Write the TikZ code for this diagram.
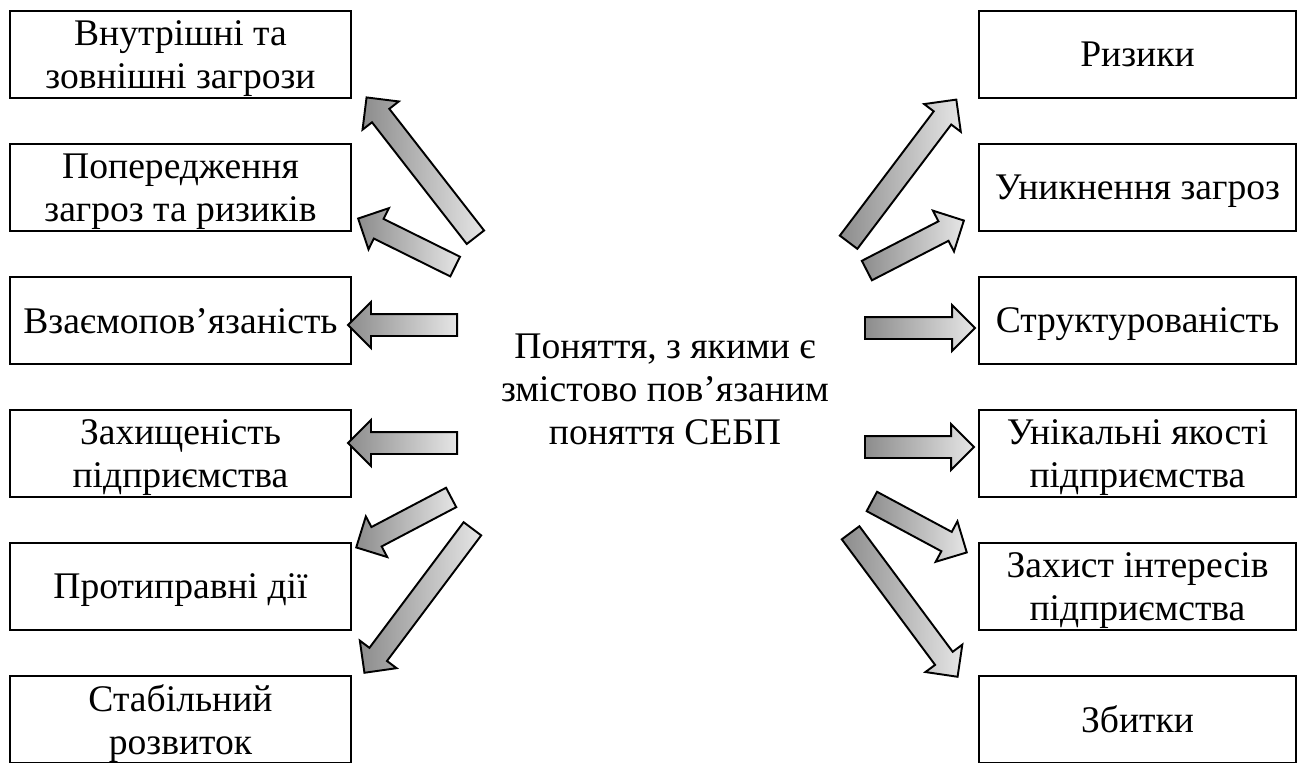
\documentclass[tikz,border=0pt]{standalone}
\usepackage{fontspec}
\setmainfont{Liberation Serif}
\usetikzlibrary{calc, shapes.arrows, positioning}

\begin{document}
\begin{tikzpicture}[
    box/.style={draw, line width=1.1pt, minimum height=1.74cm, align=center,
        inner sep=1pt, text depth=0pt, font=\fontsize{21.4}{24.3}\selectfont},
    lbox/.style={box, minimum width=6.82cm},
    rbox/.style={box, minimum width=6.34cm},
    barrow/.style={single arrow, draw, line width=1.1pt, inner xsep=0pt, inner ysep=0.2cm,
        minimum width=0pt, single arrow head extend=0.24cm, single arrow tip angle=90,
        left color=black!45, right color=black!10}
]
\newcommand{\blockarrow}[2]{%
  \path let \p1=(#1), \p2=(#2), \n1={atan2(\y2-\y1,\x2-\x1)},
    \n2={veclen(\x2-\x1,\y2-\y1)} in
    (\p1) node[barrow, anchor=tail, rotate=\n1, minimum height=\n2] {};
}
\useasboundingbox (0,0) rectangle (26.04,-15.24);
\clip (0,0) rectangle (26.04,-15.24);

% left column
\node[lbox] (l1) at (3.61,-1.09) {Внутрішні та\\зовнішні загрози};
\node[lbox] (l2) at (3.61,-3.75) {Попередження\\загроз та ризиків};
\node[lbox] (l3) at (3.61,-6.41) {Взаємопов’язаність};
\node[lbox] (l4) at (3.61,-9.07) {Захищеність\\підприємства};
\node[lbox] (l5) at (3.61,-11.73) {Протиправні дії};
\node[lbox] (l6) at (3.61,-14.39) {Стабільний\\розвиток};

% right column
\node[rbox] (r1) at (22.75,-1.09) {Ризики};
\node[rbox] (r2) at (22.75,-3.75) {Уникнення загроз};
\node[rbox] (r3) at (22.75,-6.41) {Структурованість};
\node[rbox] (r4) at (22.75,-9.07) {Унікальні якості\\підприємства};
\node[rbox] (r5) at (22.75,-11.73) {Захист інтересів\\підприємства};
\node[rbox] (r6) at (22.75,-14.39) {Збитки};

\node[align=center, text depth=0pt, font=\fontsize{21.4}{24.3}\selectfont] (c) at (13.30,-7.78)
    {Поняття, з якими є\\змістово пов’язаним\\поняття СЕБП};

% arrow tails
\coordinate (tl1) at (9.52,-4.76);
\coordinate (tl2) at (9.12,-5.34);
\coordinate (tl3) at (9.16,-6.50);
\coordinate (tl4) at (9.16,-8.86);
\coordinate (tl5) at (9.04,-9.94);
\coordinate (tl6) at (9.46,-10.56);
\coordinate (tr1) at (16.96,-4.86);
\coordinate (tr2) at (17.32,-5.42);
\coordinate (tr3) at (17.28,-6.56);
\coordinate (tr4) at (17.28,-8.94);
\coordinate (tr5) at (17.42,-10.02);
\coordinate (tr6) at (17.00,-10.64);

% arrow tips, next to the boxes
\coordinate (hl1) at ($(l1.south east)+(0.30,0.02)$);
\coordinate (hl2) at ($(l2.south east)+(0.14,0.26)$);
\coordinate (hl3) at ($(l3.east)+(-0.06,-0.09)$);
\coordinate (hl4) at ($(l4.east)+(-0.06,0.21)$);
\coordinate (hl5) at ($(l5.north east)+(0.10,-0.10)$);
\coordinate (hl6) at ($(l6.north east)+(0.26,0.06)$);
\coordinate (hr1) at ($(r1.south west)+(-0.44,-0.02)$);
\coordinate (hr2) at ($(r2.south west)+(-0.30,0.22)$);
\coordinate (hr3) at ($(r3.west)+(-0.08,-0.15)$);
\coordinate (hr4) at ($(r4.west)+(-0.10,0.13)$);
\coordinate (hr5) at ($(r5.north west)+(-0.24,-0.20)$);
\coordinate (hr6) at ($(r6.north west)+(-0.42,-0.02)$);

\blockarrow{tl1}{hl1}
\blockarrow{tl2}{hl2}
\blockarrow{tl3}{hl3}
\blockarrow{tl4}{hl4}
\blockarrow{tl5}{hl5}
\blockarrow{tl6}{hl6}
\blockarrow{tr1}{hr1}
\blockarrow{tr2}{hr2}
\blockarrow{tr3}{hr3}
\blockarrow{tr4}{hr4}
\blockarrow{tr5}{hr5}
\blockarrow{tr6}{hr6}
\end{tikzpicture}
\end{document}
